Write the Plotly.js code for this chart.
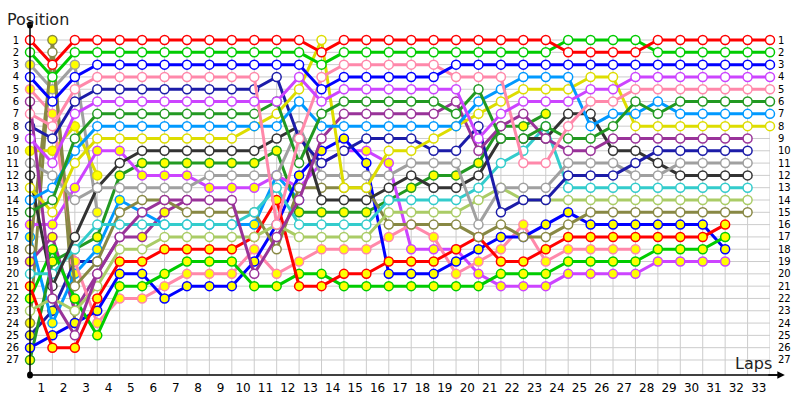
<!DOCTYPE html>
<html><head><meta charset="utf-8">
<script src="https://cdn.plot.ly/plotly-3.0.1.min.js"></script>
<style>body{margin:0;background:#fff}#chart{width:800px;height:400px}</style>
</head><body><div id="chart"></div>
<script>
const laps = Array.from({length:34},(_,i)=>i);
const lapLabels = ['1','2','3','4','5','6','7','8','9','10','11','12','13','14','15','16','17','18','19','20','21','22','23','24','25','26','27','28','29','30','31','32','33'];
const positions = [1,2,3,4,5,6,7,8,9,10,11,12,13,14,15,16,17,18,19,20,21,22,23,24,25,26,27];
const N = null;
// positions per driver, from grid (lap 0) to lap 33
const red1    = [1,3,1,1,1,1,1,1,1,1,1,1,1,2,1,1,1,1,1,1,1,1,1,1,2,2,2,2,1,1,1,1,1,1];
const green1  = [2,4,2,2,2,2,2,2,2,2,2,2,2,3,2,2,2,2,2,2,2,2,2,2,1,1,1,1,2,2,2,2,2,2];
const blue1   = [4,6,4,3,3,3,3,3,3,3,3,3,3,5,4,4,4,4,4,3,3,3,3,3,3,3,3,3,3,3,3,3,3,3];
const pink1   = [7,8,5,4,4,4,4,4,4,4,4,16,9,4,3,3,3,3,3,4,4,4,11,11,8,6,6,5,5,5,5,5,5,5];
const violet1 = [9,11,7,6,6,6,6,6,6,6,6,6,4,6,5,5,5,5,5,5,9,7,6,6,6,5,5,4,4,4,4,4,4,4];
const navy1   = [8,9,6,5,5,5,5,5,5,5,5,4,9,11,10,9,9,9,10,10,8,15,14,14,12,12,12,11,10,10,10,10,10,N];
const dkgreen1= [15,14,9,7,7,7,7,7,7,7,7,6,11,7,6,6,6,6,6,7,5,9,9,8,9,9,8,6,7,6,6,6,6,6];
const ltblue1 = [14,13,10,8,8,8,8,8,8,8,8,8,6,8,8,8,8,8,8,8,6,5,4,4,4,8,7,7,6,7,7,7,7,7];
const yellow1 = [13,15,11,9,9,9,9,9,9,9,8,7,5,1,13,13,10,10,9,8,7,6,5,5,5,4,4,8,8,8,8,8,8,8];
const purple1 = [6,22,25,20,17,15,14,14,14,14,20,17,14,9,7,7,7,7,7,6,10,8,7,9,10,10,9,9,9,9,9,9,9,N];
const dkgrey1 = [12,21,17,13,11,10,10,10,10,10,10,9,8,14,14,14,13,12,13,13,12,9,9,9,7,7,10,10,11,12,12,12,12,N];
const grey1   = [11,12,14,13,13,13,13,13,12,12,12,12,8,12,12,12,12,11,11,11,16,13,13,13,11,11,11,12,12,11,11,11,11,N];
const teal1   = [20,20,18,16,16,16,16,16,16,16,15,13,16,16,16,16,14,14,14,14,13,11,10,8,13,13,13,13,13,13,13,13,13,N];
const ltgreen1= [23,22,23,21,18,18,17,17,17,17,17,16,17,17,17,17,15,15,15,15,14,13,14,14,14,14,14,14,14,14,14,14,14,N];
const olive1  = [18,2,21,19,15,14,14,15,15,15,15,18,13,13,13,13,16,16,16,16,17,16,17,17,16,15,15,15,15,15,15,15,15,N];
const red2    = [21,26,26,22,19,19,18,18,18,18,17,14,21,21,20,20,19,19,19,18,17,19,19,18,17,17,17,17,17,17,17,16,N,N];
const green2  = [22,18,22,25,21,21,20,19,19,19,21,21,20,20,21,21,21,21,21,21,21,20,20,20,19,19,19,19,18,18,18,17,N,N];
const blue2   = [26,25,24,23,20,20,22,21,21,21,19,16,12,10,9,11,20,20,20,19,18,17,17,16,15,16,16,16,16,16,16,18,N,N];
const pink2   = [5,7,19,24,22,22,21,20,20,20,18,20,19,18,18,18,17,16,17,20,19,18,16,19,18,18,18,18,N,N,N,N,N,N];
const violet2 = [16,16,13,10,10,12,12,12,13,13,13,12,13,11,10,10,11,18,18,18,20,21,21,21,20,20,20,20,19,19,19,19,N,N];
const dkgreen2= [27,19,18,17,12,11,11,11,11,11,11,10,15,15,15,15,14,13,12,12,11,8,8,7,N,N,N,N,N,N,N,N,N,N];
const ltblue2 = [17,24,20,18,14,15,16,16,16,16,16,12,14,N,N,N,N,N,N,N,N,N,N,N,N,N,N,N,N,N,N,N,N,N];
const yellow2 = [10,10,8,12,N,N,N,N,N,N,N,N,N,N,N,N,N,N,N,N,N,N,N,N,N,N,N,N,N,N,N,N,N,N];
const purple2 = [19,17,23,20,17,17,15,14,N,N,N,N,N,N,N,N,N,N,N,N,N,N,N,N,N,N,N,N,N,N,N,N,N,N];
const navy2   = [25,23,19,19,N,N,N,N,N,N,N,N,N,N,N,N,N,N,N,N,N,N,N,N,N,N,N,N,N,N,N,N,N,N];
const grey2   = [3,5,3,15,N,N,N,N,N,N,N,N,N,N,N,N,N,N,N,N,N,N,N,N,N,N,N,N,N,N,N,N,N,N];
const olive2  = [24,1,24,N,N,N,N,N,N,N,N,N,N,N,N,N,N,N,N,N,N,N,N,N,N,N,N,N,N,N,N,N,N,N];

const colors = {red:'#ff0000',green:'#00cc00',blue:'#0000ff',pink:'#ff88aa',violet:'#cc44ff',
  navy:'#1c1ca8',dkgreen:'#229922',ltblue:'#0099ff',yellow:'#dddd00',purple:'#993399',
  dkgrey:'#333333',grey:'#a0a0a0',teal:'#33cccc',ltgreen:'#aacc66',olive:'#888844'};
const drivers = [
  [red1,'red',0],[green1,'green',0],[blue1,'blue',0],[violet1,'violet',0],[pink1,'pink',0],
  [dkgreen1,'dkgreen',0],[ltblue1,'ltblue',0],[yellow1,'yellow',0],[purple1,'purple',0],
  [navy1,'navy',0],[grey1,'grey',0],[dkgrey1,'dkgrey',0],[teal1,'teal',0],[ltgreen1,'ltgreen',0],
  [olive1,'olive',0],[red2,'red',1],[green2,'green',1],[blue2,'blue',1],[pink2,'pink',1],
  [violet2,'violet',1],[dkgreen2,'dkgreen',1],[ltblue2,'ltblue',1],[yellow2,'yellow',1],
  [purple2,'purple',1],[navy2,'navy',1],[grey2,'grey',1],[olive2,'olive',1]
];
const traces = drivers.slice().reverse().map(([vals,c,second])=>({
  x: laps, y: vals, type:'scatter', mode:'lines+markers', cliponaxis:false,
  line:{color:colors[c], width:3}, connectgaps:false,
  marker:{size:9, color: second ? '#ffff00' : '#ffffff', line:{color:colors[c], width:1.5}},
  hoverinfo:'skip'
}));
traces.push({x:[0],y:[1],xaxis:'x',yaxis:'y2',mode:'markers',marker:{opacity:0},hoverinfo:'skip'});

const shapes = [];
laps.slice(1).forEach(l=>shapes.push({type:'line',xref:'x',yref:'y',x0:l,x1:l,y0:1,y1:28.22,line:{color:'#cccccc',width:1},layer:'below'}));
positions.forEach(p=>shapes.push({type:'line',xref:'x',yref:'y',x0:0,x1:33,y0:p,y1:p,line:{color:'#cccccc',width:1},layer:'below'}));
shapes.push({type:'line',xref:'paper',yref:'paper',x0:0,x1:0,y0:0,y1:1,line:{color:'#000',width:1.5}});
shapes.push({type:'line',xref:'paper',yref:'paper',x0:0,x1:1.01,y0:0,y1:0,line:{color:'#000',width:1.5}});
shapes.push({type:'circle',xref:'paper',yref:'paper',x0:-0.004,x1:0.004,y0:0.99,y1:1.01,fillcolor:'#000',line:{width:0}});
shapes.push({type:'circle',xref:'paper',yref:'paper',x0:-0.004,x1:0.004,y0:-0.01,y1:0.01,fillcolor:'#000',line:{width:0}});

const yr = [28.22,-0.22];
const layout = {
  width:800, height:400, margin:{l:30,r:30,t:25,b:25},
  paper_bgcolor:'#fff', plot_bgcolor:'#fff', showlegend:false,
  font:{family:'DejaVu Sans, sans-serif', color:'#000'},
  xaxis:{range:[0,33], tickvals:laps.slice(0,33).map(l=>l+0.5), ticktext:lapLabels,
    showgrid:false, zeroline:false, showline:false, ticks:'', tickfont:{size:12}, ticklabelstandoff:4, fixedrange:true},
  yaxis:{range:yr, tickvals:positions, ticktext:positions.map(String), showgrid:false, zeroline:false,
    showline:false, ticks:'', tickfont:{size:10}, ticklabelstandoff:10},
  yaxis2:{range:yr, overlaying:'y', side:'right', tickvals:positions, ticktext:positions.map(String),
    showgrid:false, zeroline:false, showline:false, ticks:'', tickfont:{size:10}, ticklabelstandoff:7},
  shapes: shapes,
  annotations:[
    {text:'Position', xref:'paper', yref:'paper', x:-0.034, y:1.0, xanchor:'left', yanchor:'bottom', showarrow:false, font:{size:16,color:'#222'}, yshift:-6},
    {text:'Laps', xref:'paper', yref:'paper', x:1.005, y:0, xanchor:'right', yanchor:'bottom', showarrow:false, font:{size:16,color:'#222'}},
    {x:1.02, y:0, xref:'paper', yref:'paper', ax:-18, ay:0, showarrow:true, arrowhead:2, arrowsize:1, arrowwidth:1.5, arrowcolor:'#000', text:''}
  ]
};
Plotly.newPlot('chart', traces, layout, {staticPlot:true, displayModeBar:false});
</script></body></html>
